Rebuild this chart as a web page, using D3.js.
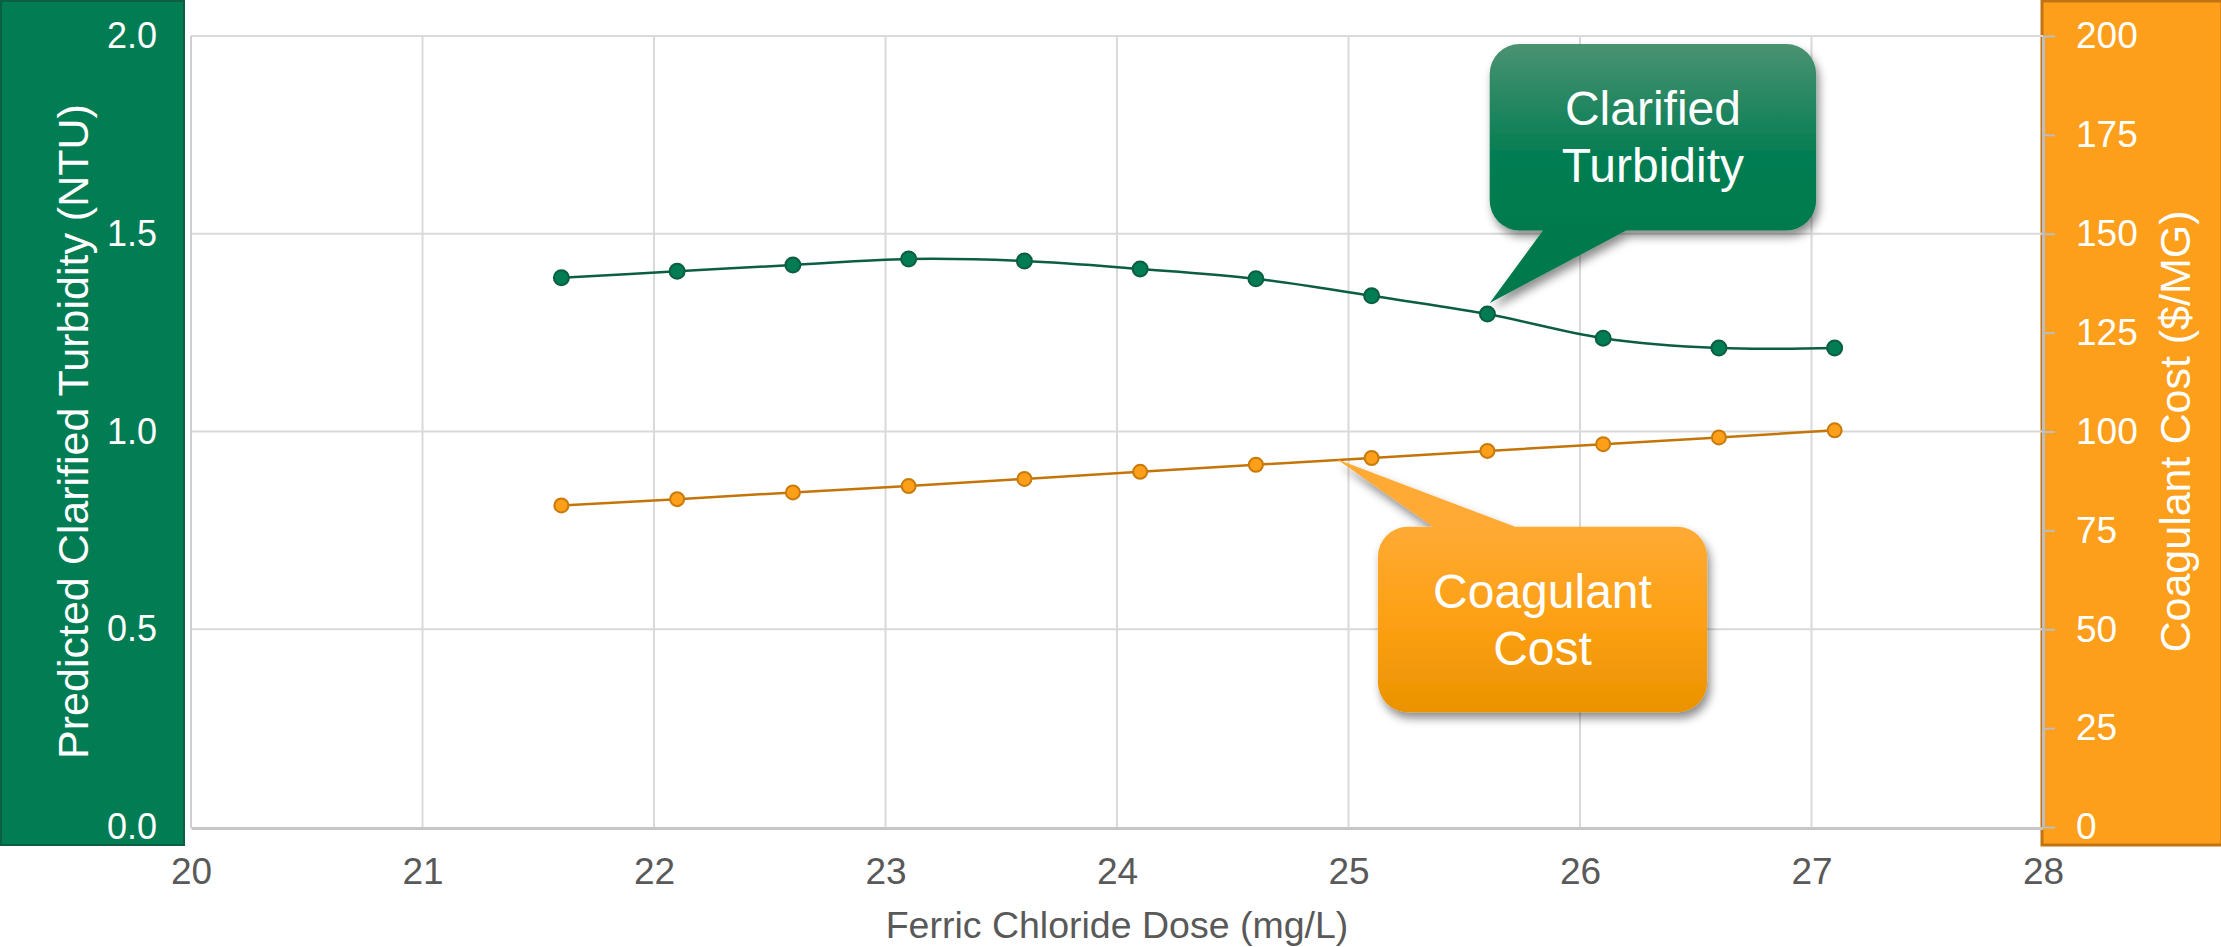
<!DOCTYPE html>
<html>
<head>
<meta charset="utf-8">
<script src="https://cdn.jsdelivr.net/npm/d3@7"></script>
<style>
  html, body { margin: 0; padding: 0; background: #ffffff; }
  svg { display: block; font-family: "Liberation Sans", Arial, sans-serif; }
</style>
</head>
<body>
<svg id="chart" width="2221" height="947"></svg>
<script>
// ---------------- DATA ----------------
const doses = [21.6, 22.1, 22.6, 23.1, 23.6, 24.1, 24.6, 25.1, 25.6, 26.1, 26.6, 27.1];
const turbidity = [1.389, 1.405, 1.421, 1.436, 1.431, 1.411, 1.386, 1.343, 1.297, 1.236, 1.211, 1.211];
const coagulantCost = [81.3, 82.9, 84.6, 86.2, 88.0, 89.8, 91.6, 93.3, 95.1, 96.8, 98.5, 100.3];
const xTicks = [20, 21, 22, 23, 24, 25, 26, 27, 28];
const leftTicks = [0, 0.5, 1.0, 1.5, 2.0];
const rightTicks = [0, 25, 50, 75, 100, 125, 150, 175, 200];
const xTitle = "Ferric Chloride Dose (mg/L)";
const leftTitle = "Predicted Clarified Turbidity (NTU)";
const rightTitle = "Coagulant Cost ($/MG)";
const calloutTurbidity = ["Clarified", "Turbidity"];
const calloutCost = ["Coagulant", "Cost"];

// ---------------- LAYOUT ----------------
const W = 2221, H = 947;
const plot = { left: 191, right: 2043, top: 36, bottom: 827 };
const svg = d3.select("#chart");

const x = d3.scaleLinear().domain([20, 28]).range([plot.left, plot.right]);
const yL = d3.scaleLinear().domain([0, 2]).range([plot.bottom, plot.top]);
const yR = d3.scaleLinear().domain([0, 200]).range([plot.bottom, plot.top]);

const GREEN = "#027c53", GREEN_DARK = "#0b5e40";
const ORANGE = "#fd9f1b", ORANGE_DARK = "#c27414";

// defs
const defs = svg.append("defs");
const gG = defs.append("linearGradient").attr("id", "gGreen")
  .attr("gradientUnits", "userSpaceOnUse").attr("x1", 0).attr("x2", 0)
  .attr("y1", yL(1.98)).attr("y2", yL(1.508));
gG.append("stop").attr("offset", "0%").attr("stop-color", "#4a9272");
gG.append("stop").attr("offset", "60%").attr("stop-color", "#037d52");
gG.append("stop").attr("offset", "100%").attr("stop-color", "#007a4e");
const gO = defs.append("linearGradient").attr("id", "gOrange")
  .attr("gradientUnits", "userSpaceOnUse").attr("x1", 0).attr("x2", 0)
  .attr("y1", yR(75.9)).attr("y2", yR(29));
gO.append("stop").attr("offset", "0%").attr("stop-color", "#ffaa35");
gO.append("stop").attr("offset", "50%").attr("stop-color", "#fda014");
gO.append("stop").attr("offset", "100%").attr("stop-color", "#ea9300");
const sh = defs.append("filter").attr("id", "shadow")
  .attr("x", "-20%").attr("y", "-20%").attr("width", "140%").attr("height", "150%");
sh.append("feDropShadow").attr("dx", 3).attr("dy", 6).attr("stdDeviation", 5)
  .attr("flood-color", "#000").attr("flood-opacity", 0.45);

// side panels
svg.append("rect").attr("x", 1).attr("y", 1).attr("width", 183).attr("height", 844)
  .attr("fill", GREEN).attr("stroke", GREEN_DARK).attr("stroke-width", 2);
svg.append("rect").attr("x", 2042).attr("y", 1).attr("width", 180).attr("height", 844)
  .attr("fill", ORANGE).attr("stroke", ORANGE_DARK).attr("stroke-width", 3);

// gridlines
const grid = svg.append("g");
grid.selectAll("line.v").data(xTicks.slice(1, -1)).join("line")
  .attr("x1", d => x(d)).attr("x2", d => x(d))
  .attr("y1", plot.top).attr("y2", plot.bottom)
  .attr("stroke", "#d9d9d9").attr("stroke-width", 2);
grid.selectAll("line.h").data(leftTicks.slice(1)).join("line")
  .attr("x1", plot.left).attr("x2", plot.right)
  .attr("y1", d => yL(d)).attr("y2", d => yL(d))
  .attr("stroke", "#d9d9d9").attr("stroke-width", 2);
// left border of plot
svg.append("line").attr("x1", plot.left).attr("x2", plot.left)
  .attr("y1", plot.top).attr("y2", plot.bottom + 1)
  .attr("stroke", "#cfcfcf").attr("stroke-width", 2);

// bottom axis
const xAxis = d3.axisBottom(x).tickValues(xTicks).tickSize(0).tickPadding(0).tickFormat(d3.format("d"));
const gx = svg.append("g").attr("transform", `translate(0,${plot.bottom + 1})`).call(xAxis);
gx.select(".domain").attr("stroke", "#c6c6c6").attr("stroke-width", 3);
gx.selectAll("text").attr("fill", "#595959").attr("font-size", 37)
  .attr("font-family", "Liberation Sans, Arial, sans-serif")
  .attr("dy", null).attr("y", 56);

// left axis (labels only)
const gl = svg.append("g").attr("transform", `translate(${plot.left},0)`)
  .call(d3.axisLeft(yL).tickValues(leftTicks).tickSize(0).tickPadding(34).tickFormat(d3.format(".1f")));
gl.select(".domain").remove();
gl.selectAll("text").attr("fill", "#ffffff").attr("font-size", 36)
  .attr("font-family", "Liberation Sans, Arial, sans-serif");

// right axis
const gr = svg.append("g").attr("transform", `translate(${plot.right},0)`)
  .call(d3.axisRight(yR).tickValues(rightTicks).tickSizeInner(12).tickSizeOuter(0).tickPadding(21));
gr.select(".domain").attr("stroke", "#bdbdbd").attr("stroke-width", 3);
gr.selectAll(".tick line").attr("stroke", "#bdbdbd").attr("stroke-width", 2);
gr.selectAll("text").attr("fill", "#ffffff").attr("font-size", 37)
  .attr("font-family", "Liberation Sans, Arial, sans-serif");

// axis titles
svg.append("text").attr("x", (plot.left + plot.right) / 2).attr("y", 938)
  .attr("text-anchor", "middle").attr("fill", "#595959").attr("font-size", 37.5)
  .text(xTitle);
svg.append("text").attr("transform", `translate(88,${(plot.top + plot.bottom) / 2}) rotate(-90)`)
  .attr("text-anchor", "middle").attr("fill", "#ffffff").attr("font-size", 43)
  .text(leftTitle);
svg.append("text").attr("transform", `translate(2190,${(plot.top + plot.bottom) / 2}) rotate(-90)`)
  .attr("text-anchor", "middle").attr("fill", "#ffffff").attr("font-size", 43)
  .text(rightTitle);

// series
const pts = doses.map((d, i) => ({ x: d, t: turbidity[i], c: coagulantCost[i] }));
svg.append("path").datum(pts)
  .attr("d", d3.line().x(d => x(d.x)).y(d => yR(d.c)))
  .attr("fill", "none").attr("stroke", "#c47508").attr("stroke-width", 2.5);
svg.append("path").datum(pts)
  .attr("d", d3.line().curve(d3.curveCatmullRom.alpha(0.5)).x(d => x(d.x)).y(d => yL(d.t)))
  .attr("fill", "none").attr("stroke", "#0b5e40").attr("stroke-width", 2.5);
svg.append("g").selectAll("circle").data(pts).join("circle")
  .attr("cx", d => x(d.x)).attr("cy", d => yR(d.c)).attr("r", 7)
  .attr("fill", "#fe9f1a").attr("stroke", "#c97a0a").attr("stroke-width", 2);
svg.append("g").selectAll("circle").data(pts).join("circle")
  .attr("cx", d => x(d.x)).attr("cy", d => yL(d.t)).attr("r", 7.5)
  .attr("fill", "#027c52").attr("stroke", "#0b5e40").attr("stroke-width", 2);

// callouts
function callout(box, tip, base, pointerSide, fill, lines) {
  const r = 30;
  const { x0, y0, x1, y1 } = box;
  const p = d3.path();
  p.moveTo(x0 + r, y0);
  if (pointerSide === "top") { p.lineTo(base[0], y0); p.lineTo(tip[0], tip[1]); p.lineTo(base[1], y0); }
  p.lineTo(x1 - r, y0);
  p.arcTo(x1, y0, x1, y0 + r, r);
  p.lineTo(x1, y1 - r);
  p.arcTo(x1, y1, x1 - r, y1, r);
  if (pointerSide === "bottom") { p.lineTo(base[1], y1); p.lineTo(tip[0], tip[1]); p.lineTo(base[0], y1); }
  p.lineTo(x0 + r, y1);
  p.arcTo(x0, y1, x0, y1 - r, r);
  p.lineTo(x0, y0 + r);
  p.arcTo(x0, y0, x0 + r, y0, r);
  p.closePath();
  svg.append("path").attr("d", p.toString()).attr("fill", fill).attr("filter", "url(#shadow)");
  const cx = (x0 + x1) / 2, cy = (y0 + y1) / 2;
  svg.append("text").attr("x", cx).attr("y", cy - 12).attr("text-anchor", "middle")
    .attr("fill", "#fff").attr("font-size", 48).text(lines[0]);
  svg.append("text").attr("x", cx).attr("y", cy + 45).attr("text-anchor", "middle")
    .attr("fill", "#fff").attr("font-size", 48).text(lines[1]);
}
callout({ x0: x(25.61), y0: yL(1.98), x1: x(27.02), y1: yL(1.508) },
  [x(25.61), yL(1.325)], [x(25.84), x(26.2)], "bottom", "url(#gGreen)", calloutTurbidity);
callout({ x0: x(25.127), y0: yR(75.9), x1: x(26.549), y1: yR(29) },
  [x(24.95), yR(93.0)], [x(25.365), x(25.72)], "top", "url(#gOrange)", calloutCost);
</script>
</body>
</html>
